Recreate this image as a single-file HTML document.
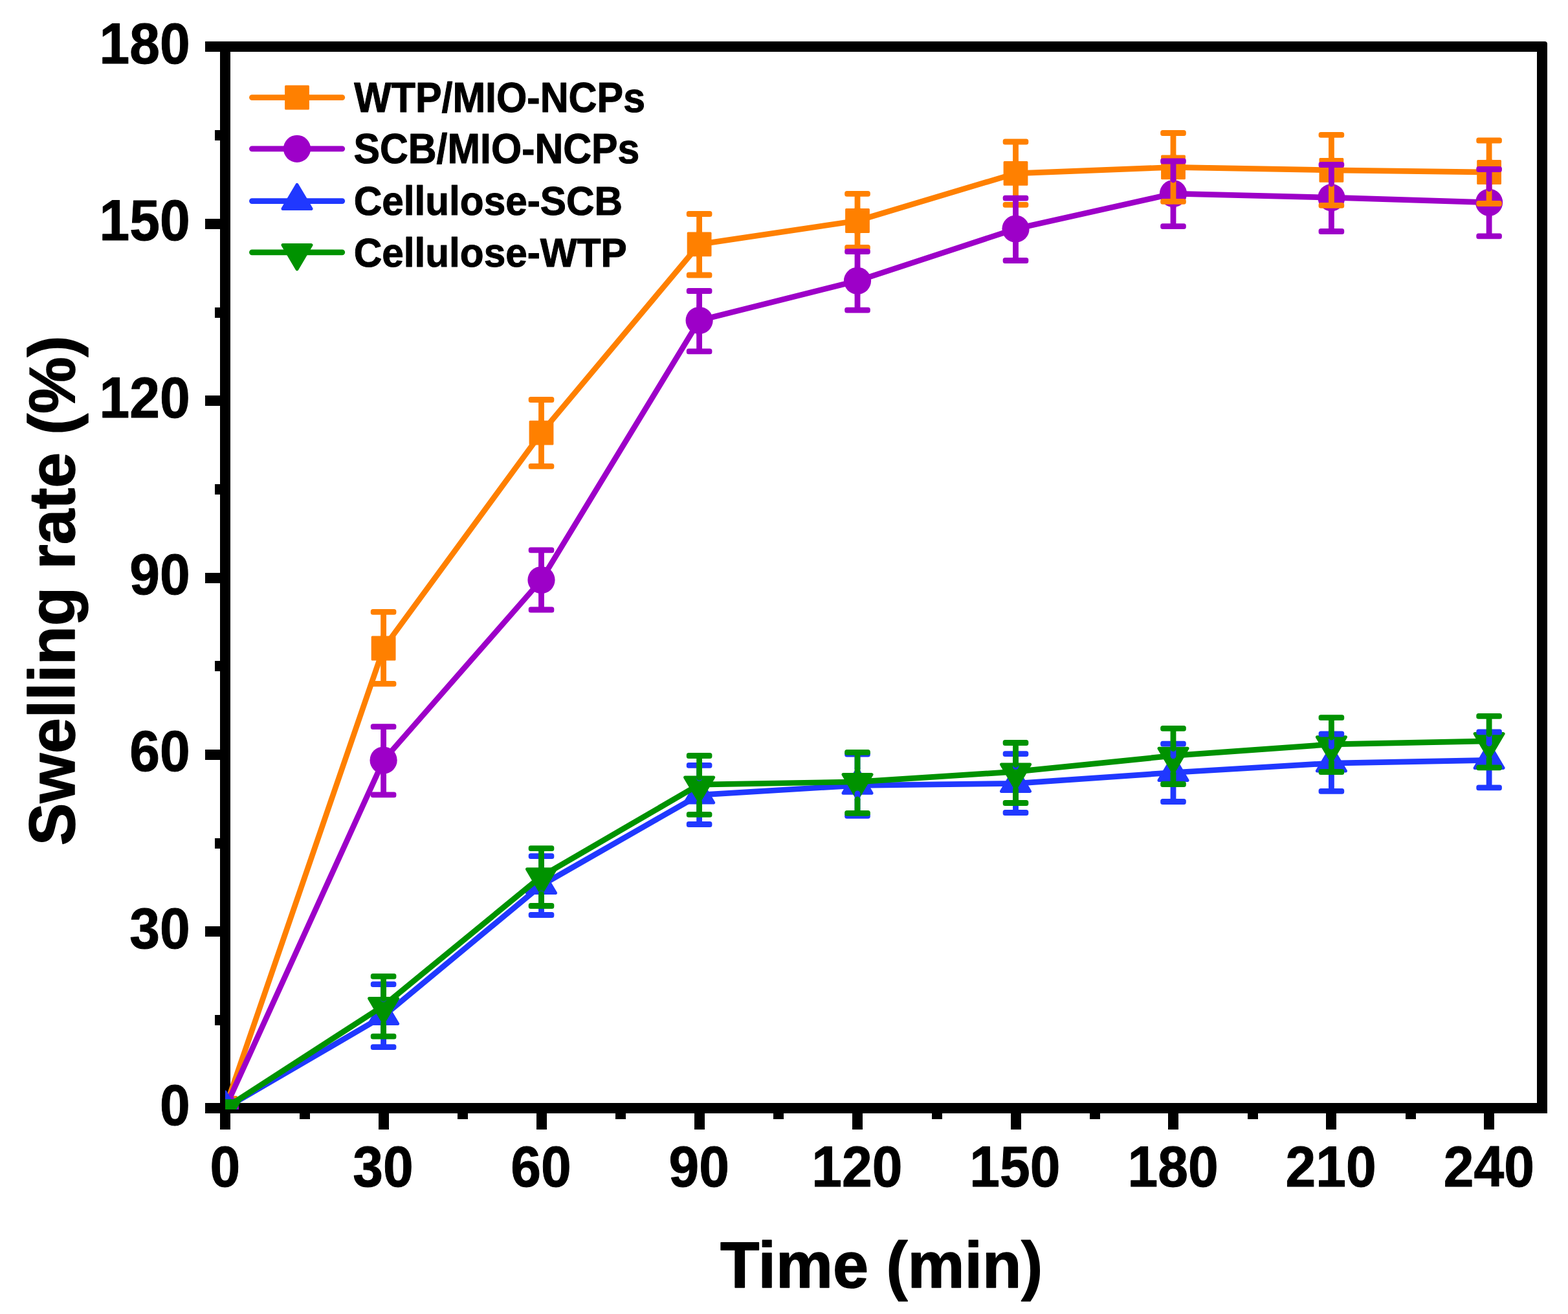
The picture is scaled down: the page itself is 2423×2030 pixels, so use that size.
<!DOCTYPE html>
<html lang="en"><head><meta charset="utf-8"><title>Swelling rate (%) vs Time (min)</title>
<style>
html,body{margin:0;padding:0;background:#fff;}
body{width:2423px;height:2030px;overflow:hidden;}
svg{display:block;}
text{font-family:"Liberation Sans",Arial,Helvetica,sans-serif;font-weight:bold;fill:#000;stroke:#000;stroke-width:1px;stroke-linejoin:round;}
.tk{font-size:84px;}
.ti{font-size:98.6px;stroke-width:1.5px;}
.lg{font-size:61px;}
</style></head><body>
<svg width="2423" height="2030" viewBox="0 0 2423 2030" role="img" aria-label="Swelling rate versus time">
<rect x="0" y="0" width="2423" height="2030" fill="#fff"/>
<defs><clipPath id="plot"><rect x="348" y="72" width="2035" height="1642"/></clipPath></defs>
<g id="axes" fill="#000" shape-rendering="crispEdges">
<path d="M340,64 H2387 Q2391,64 2391,68 V1720 H2375 V80 H340 Z" shape-rendering="geometricPrecision"/>
<rect x="340" y="64" width="16" height="1656"/>
<rect x="340" y="1704" width="2051" height="16"/>
<rect x="317" y="1704" width="31" height="16"/>
<rect x="332" y="1567.93" width="16" height="16"/>
<rect x="317" y="1431.27" width="31" height="16"/>
<rect x="332" y="1294.6" width="16" height="16"/>
<rect x="317" y="1157.93" width="31" height="16"/>
<rect x="332" y="1021.27" width="16" height="16"/>
<rect x="317" y="884.6" width="31" height="16"/>
<rect x="332" y="747.93" width="16" height="16"/>
<rect x="317" y="611.27" width="31" height="16"/>
<rect x="332" y="474.6" width="16" height="16"/>
<rect x="317" y="337.93" width="31" height="16"/>
<rect x="332" y="201.27" width="16" height="16"/>
<rect x="317" y="64" width="31" height="16"/>
<rect x="340" y="1712" width="16" height="33"/>
<rect x="462.8" y="1712" width="16" height="17"/>
<rect x="584.6" y="1712" width="16" height="33"/>
<rect x="707.05" y="1712" width="16" height="17"/>
<rect x="828.5" y="1712" width="16" height="33"/>
<rect x="951.05" y="1712" width="16" height="17"/>
<rect x="1072.6" y="1712" width="16" height="33"/>
<rect x="1195.3" y="1712" width="16" height="17"/>
<rect x="1317" y="1712" width="16" height="33"/>
<rect x="1439.75" y="1712" width="16" height="17"/>
<rect x="1561.5" y="1712" width="16" height="33"/>
<rect x="1683.75" y="1712" width="16" height="17"/>
<rect x="1805" y="1712" width="16" height="33"/>
<rect x="1927.7" y="1712" width="16" height="17"/>
<rect x="2049.4" y="1712" width="16" height="33"/>
<rect x="2171.75" y="1712" width="16" height="17"/>
<rect x="2293.1" y="1712" width="16" height="33"/>
</g>
<g id="ylabels" class="tk" text-anchor="end">
<text transform="translate(293.7,1737.9) scale(1,1.055)">0</text>
<text transform="translate(293.7,1464.57) scale(1,1.055)">30</text>
<text transform="translate(293.7,1191.23) scale(1,1.055)">60</text>
<text transform="translate(293.7,917.9) scale(1,1.055)">90</text>
<text transform="translate(293.7,644.57) scale(1,1.055)">120</text>
<text transform="translate(293.7,371.23) scale(1,1.055)">150</text>
<text transform="translate(293.7,97.9) scale(1,1.055)">180</text>
</g>
<g id="xlabels" class="tk" text-anchor="middle">
<text transform="translate(347.8,1832.6) scale(1,1.055)">0</text>
<text transform="translate(591.92,1832.6) scale(1,1.055)">30</text>
<text transform="translate(836.05,1832.6) scale(1,1.055)">60</text>
<text transform="translate(1080.17,1832.6) scale(1,1.055)">90</text>
<text transform="translate(1324.3,1832.6) scale(1,1.055)">120</text>
<text transform="translate(1568.42,1832.6) scale(1,1.055)">150</text>
<text transform="translate(1812.55,1832.6) scale(1,1.055)">180</text>
<text transform="translate(2056.68,1832.6) scale(1,1.055)">210</text>
<text transform="translate(2300.8,1832.6) scale(1,1.055)">240</text>
</g>
<text class="ti" transform="translate(1112.9,1989.4) scale(1.0035,1.02)">Time (min)</text>
<text class="ti" transform="translate(115.2,1306.2) rotate(-90) scale(0.9984,1.02)">Swelling rate (%)</text>
<g id="data" clip-path="url(#plot)">
<polyline points="348,1712 592.6,1001.5 836.5,668.7 1080.6,377.4 1325,341 1569.5,267.8 1813,258.4 2057.4,262.9 2301.1,266" fill="none" stroke="#FF8000" stroke-width="8.7" stroke-linejoin="round" stroke-linecap="round"/>
<rect x="330.6" y="1694.6" width="34.8" height="34.8" fill="#FF8000" stroke="#FF8000" stroke-width="3" stroke-linejoin="round"/>
<rect x="575.2" y="984.1" width="34.8" height="34.8" fill="#FF8000" stroke="#FF8000" stroke-width="3" stroke-linejoin="round"/>
<rect x="819.1" y="651.3" width="34.8" height="34.8" fill="#FF8000" stroke="#FF8000" stroke-width="3" stroke-linejoin="round"/>
<rect x="1063.2" y="360" width="34.8" height="34.8" fill="#FF8000" stroke="#FF8000" stroke-width="3" stroke-linejoin="round"/>
<rect x="1307.6" y="323.6" width="34.8" height="34.8" fill="#FF8000" stroke="#FF8000" stroke-width="3" stroke-linejoin="round"/>
<rect x="1552.1" y="250.4" width="34.8" height="34.8" fill="#FF8000" stroke="#FF8000" stroke-width="3" stroke-linejoin="round"/>
<rect x="1795.6" y="241" width="34.8" height="34.8" fill="#FF8000" stroke="#FF8000" stroke-width="3" stroke-linejoin="round"/>
<rect x="2040" y="245.5" width="34.8" height="34.8" fill="#FF8000" stroke="#FF8000" stroke-width="3" stroke-linejoin="round"/>
<rect x="2283.7" y="248.6" width="34.8" height="34.8" fill="#FF8000" stroke="#FF8000" stroke-width="3" stroke-linejoin="round"/>
<polyline points="348,1712 592.6,1174.5 836.5,896 1080.6,495 1325,433.8 1569.5,353.6 1813,299.1 2057.4,305.2 2301.1,312.7" fill="none" stroke="#9D00C8" stroke-width="8.7" stroke-linejoin="round" stroke-linecap="round"/>
<circle cx="348" cy="1712" r="21.1" fill="#9D00C8"/>
<circle cx="592.6" cy="1174.5" r="21.1" fill="#9D00C8"/>
<circle cx="836.5" cy="896" r="21.1" fill="#9D00C8"/>
<circle cx="1080.6" cy="495" r="21.1" fill="#9D00C8"/>
<circle cx="1325" cy="433.8" r="21.1" fill="#9D00C8"/>
<circle cx="1569.5" cy="353.6" r="21.1" fill="#9D00C8"/>
<circle cx="1813" cy="299.1" r="21.1" fill="#9D00C8"/>
<circle cx="2057.4" cy="305.2" r="21.1" fill="#9D00C8"/>
<circle cx="2301.1" cy="312.7" r="21.1" fill="#9D00C8"/>
<polyline points="348,1712 592.6,1569.6 836.5,1367.6 1080.6,1228.1 1325,1213.3 1569.5,1210.4 1813,1193.5 2057.4,1179.1 2301.1,1174.4" fill="none" stroke="#2038FF" stroke-width="8.7" stroke-linejoin="round" stroke-linecap="round"/>
<polygon points="348,1686.8 370,1724 326,1724" fill="#2038FF" stroke="#2038FF" stroke-width="5" stroke-linejoin="round"/>
<polygon points="592.6,1544.4 614.6,1581.6 570.6,1581.6" fill="#2038FF" stroke="#2038FF" stroke-width="5" stroke-linejoin="round"/>
<polygon points="836.5,1342.4 858.5,1379.6 814.5,1379.6" fill="#2038FF" stroke="#2038FF" stroke-width="5" stroke-linejoin="round"/>
<polygon points="1080.6,1202.9 1102.6,1240.1 1058.6,1240.1" fill="#2038FF" stroke="#2038FF" stroke-width="5" stroke-linejoin="round"/>
<polygon points="1325,1188.1 1347,1225.3 1303,1225.3" fill="#2038FF" stroke="#2038FF" stroke-width="5" stroke-linejoin="round"/>
<polygon points="1569.5,1185.2 1591.5,1222.4 1547.5,1222.4" fill="#2038FF" stroke="#2038FF" stroke-width="5" stroke-linejoin="round"/>
<polygon points="1813,1168.3 1835,1205.5 1791,1205.5" fill="#2038FF" stroke="#2038FF" stroke-width="5" stroke-linejoin="round"/>
<polygon points="2057.4,1153.9 2079.4,1191.1 2035.4,1191.1" fill="#2038FF" stroke="#2038FF" stroke-width="5" stroke-linejoin="round"/>
<polygon points="2301.1,1149.2 2323.1,1186.4 2279.1,1186.4" fill="#2038FF" stroke="#2038FF" stroke-width="5" stroke-linejoin="round"/>
<polyline points="348,1712 592.6,1553.8 836.5,1353.9 1080.6,1212.1 1325,1207.8 1569.5,1192.2 1813,1167.4 2057.4,1149.9 2301.1,1144.8" fill="none" stroke="#009200" stroke-width="8.7" stroke-linejoin="round" stroke-linecap="round"/>
<polygon points="348,1738 370,1700.8 326,1700.8" fill="#009200" stroke="#009200" stroke-width="5" stroke-linejoin="round"/>
<polygon points="592.6,1579.8 614.6,1542.6 570.6,1542.6" fill="#009200" stroke="#009200" stroke-width="5" stroke-linejoin="round"/>
<polygon points="836.5,1379.9 858.5,1342.7 814.5,1342.7" fill="#009200" stroke="#009200" stroke-width="5" stroke-linejoin="round"/>
<polygon points="1080.6,1238.1 1102.6,1200.9 1058.6,1200.9" fill="#009200" stroke="#009200" stroke-width="5" stroke-linejoin="round"/>
<polygon points="1325,1233.8 1347,1196.6 1303,1196.6" fill="#009200" stroke="#009200" stroke-width="5" stroke-linejoin="round"/>
<polygon points="1569.5,1218.2 1591.5,1181 1547.5,1181" fill="#009200" stroke="#009200" stroke-width="5" stroke-linejoin="round"/>
<polygon points="1813,1193.4 1835,1156.2 1791,1156.2" fill="#009200" stroke="#009200" stroke-width="5" stroke-linejoin="round"/>
<polygon points="2057.4,1175.9 2079.4,1138.7 2035.4,1138.7" fill="#009200" stroke="#009200" stroke-width="5" stroke-linejoin="round"/>
<polygon points="2301.1,1170.8 2323.1,1133.6 2279.1,1133.6" fill="#009200" stroke="#009200" stroke-width="5" stroke-linejoin="round"/>
<g stroke="#FF8000" stroke-width="8.8" stroke-linecap="round" fill="none">
<path d="M592.6,945.4 V982.6 M592.6,1056.4 V1020.4" stroke-linecap="butt"/>
<circle cx="592.6" cy="982.6" r="4.4" fill="#FF8000" stroke="none"/><circle cx="592.6" cy="1020.4" r="4.4" fill="#FF8000" stroke="none"/>
<rect x="572.8" y="941" width="39.6" height="8.8" rx="3.5" fill="#FF8000" stroke="none"/>
<rect x="572.8" y="1052" width="39.6" height="8.8" rx="3.5" fill="#FF8000" stroke="none"/>
<path d="M836.5,617.5 V649.8 M836.5,720.3 V687.6" stroke-linecap="butt"/>
<circle cx="836.5" cy="649.8" r="4.4" fill="#FF8000" stroke="none"/><circle cx="836.5" cy="687.6" r="4.4" fill="#FF8000" stroke="none"/>
<rect x="816.7" y="613.1" width="39.6" height="8.8" rx="3.5" fill="#FF8000" stroke="none"/>
<rect x="816.7" y="715.9" width="39.6" height="8.8" rx="3.5" fill="#FF8000" stroke="none"/>
<path d="M1080.6,330.5 V358.5 M1080.6,425 V396.3" stroke-linecap="butt"/>
<circle cx="1080.6" cy="358.5" r="4.4" fill="#FF8000" stroke="none"/><circle cx="1080.6" cy="396.3" r="4.4" fill="#FF8000" stroke="none"/>
<rect x="1060.8" y="326.1" width="39.6" height="8.8" rx="3.5" fill="#FF8000" stroke="none"/>
<rect x="1060.8" y="420.6" width="39.6" height="8.8" rx="3.5" fill="#FF8000" stroke="none"/>
<path d="M1325,299.3 V322.1 M1325,382.5 V359.9" stroke-linecap="butt"/>
<circle cx="1325" cy="322.1" r="4.4" fill="#FF8000" stroke="none"/><circle cx="1325" cy="359.9" r="4.4" fill="#FF8000" stroke="none"/>
<rect x="1305.2" y="294.9" width="39.6" height="8.8" rx="3.5" fill="#FF8000" stroke="none"/>
<rect x="1305.2" y="378.1" width="39.6" height="8.8" rx="3.5" fill="#FF8000" stroke="none"/>
<path d="M1569.5,219 V248.9 M1569.5,316.4 V286.7" stroke-linecap="butt"/>
<circle cx="1569.5" cy="248.9" r="4.4" fill="#FF8000" stroke="none"/><circle cx="1569.5" cy="286.7" r="4.4" fill="#FF8000" stroke="none"/>
<rect x="1549.7" y="214.6" width="39.6" height="8.8" rx="3.5" fill="#FF8000" stroke="none"/>
<rect x="1549.7" y="312" width="39.6" height="8.8" rx="3.5" fill="#FF8000" stroke="none"/>
<path d="M1813,205.5 V239.5 M1813,311.4 V277.3" stroke-linecap="butt"/>
<circle cx="1813" cy="239.5" r="4.4" fill="#FF8000" stroke="none"/><circle cx="1813" cy="277.3" r="4.4" fill="#FF8000" stroke="none"/>
<rect x="1793.2" y="201.1" width="39.6" height="8.8" rx="3.5" fill="#FF8000" stroke="none"/>
<rect x="1793.2" y="307" width="39.6" height="8.8" rx="3.5" fill="#FF8000" stroke="none"/>
<path d="M2057.4,208.4 V244 M2057.4,317.3 V281.8" stroke-linecap="butt"/>
<circle cx="2057.4" cy="244" r="4.4" fill="#FF8000" stroke="none"/><circle cx="2057.4" cy="281.8" r="4.4" fill="#FF8000" stroke="none"/>
<rect x="2037.6" y="204" width="39.6" height="8.8" rx="3.5" fill="#FF8000" stroke="none"/>
<rect x="2037.6" y="312.9" width="39.6" height="8.8" rx="3.5" fill="#FF8000" stroke="none"/>
<path d="M2301.1,217 V247.1 M2301.1,314.5 V284.9" stroke-linecap="butt"/>
<circle cx="2301.1" cy="247.1" r="4.4" fill="#FF8000" stroke="none"/><circle cx="2301.1" cy="284.9" r="4.4" fill="#FF8000" stroke="none"/>
<rect x="2281.3" y="212.6" width="39.6" height="8.8" rx="3.5" fill="#FF8000" stroke="none"/>
<rect x="2281.3" y="310.1" width="39.6" height="8.8" rx="3.5" fill="#FF8000" stroke="none"/>
</g>
<g stroke="#9D00C8" stroke-width="8.8" stroke-linecap="round" fill="none">
<path d="M592.6,1122.7 V1153.4 M592.6,1227.9 V1195.6" stroke-linecap="butt"/>
<circle cx="592.6" cy="1153.4" r="4.4" fill="#9D00C8" stroke="none"/><circle cx="592.6" cy="1195.6" r="4.4" fill="#9D00C8" stroke="none"/>
<rect x="572.8" y="1118.3" width="39.6" height="8.8" rx="3.5" fill="#9D00C8" stroke="none"/>
<rect x="572.8" y="1223.5" width="39.6" height="8.8" rx="3.5" fill="#9D00C8" stroke="none"/>
<path d="M836.5,849.9 V874.9 M836.5,942 V917.1" stroke-linecap="butt"/>
<circle cx="836.5" cy="874.9" r="4.4" fill="#9D00C8" stroke="none"/><circle cx="836.5" cy="917.1" r="4.4" fill="#9D00C8" stroke="none"/>
<rect x="816.7" y="845.5" width="39.6" height="8.8" rx="3.5" fill="#9D00C8" stroke="none"/>
<rect x="816.7" y="937.6" width="39.6" height="8.8" rx="3.5" fill="#9D00C8" stroke="none"/>
<path d="M1080.6,449.5 V473.9 M1080.6,542.8 V516.1" stroke-linecap="butt"/>
<circle cx="1080.6" cy="473.9" r="4.4" fill="#9D00C8" stroke="none"/><circle cx="1080.6" cy="516.1" r="4.4" fill="#9D00C8" stroke="none"/>
<rect x="1060.8" y="445.1" width="39.6" height="8.8" rx="3.5" fill="#9D00C8" stroke="none"/>
<rect x="1060.8" y="538.4" width="39.6" height="8.8" rx="3.5" fill="#9D00C8" stroke="none"/>
<path d="M1325,388.7 V412.7 M1325,479.1 V454.9" stroke-linecap="butt"/>
<circle cx="1325" cy="412.7" r="4.4" fill="#9D00C8" stroke="none"/><circle cx="1325" cy="454.9" r="4.4" fill="#9D00C8" stroke="none"/>
<rect x="1305.2" y="384.3" width="39.6" height="8.8" rx="3.5" fill="#9D00C8" stroke="none"/>
<rect x="1305.2" y="474.7" width="39.6" height="8.8" rx="3.5" fill="#9D00C8" stroke="none"/>
<path d="M1569.5,306.1 V332.5 M1569.5,402.5 V374.7" stroke-linecap="butt"/>
<circle cx="1569.5" cy="332.5" r="4.4" fill="#9D00C8" stroke="none"/><circle cx="1569.5" cy="374.7" r="4.4" fill="#9D00C8" stroke="none"/>
<rect x="1549.7" y="301.7" width="39.6" height="8.8" rx="3.5" fill="#9D00C8" stroke="none"/>
<rect x="1549.7" y="398.1" width="39.6" height="8.8" rx="3.5" fill="#9D00C8" stroke="none"/>
<path d="M1813,249 V278 M1813,349.6 V320.2" stroke-linecap="butt"/>
<circle cx="1813" cy="278" r="4.4" fill="#9D00C8" stroke="none"/><circle cx="1813" cy="320.2" r="4.4" fill="#9D00C8" stroke="none"/>
<rect x="1793.2" y="244.6" width="39.6" height="8.8" rx="3.5" fill="#9D00C8" stroke="none"/>
<rect x="1793.2" y="345.2" width="39.6" height="8.8" rx="3.5" fill="#9D00C8" stroke="none"/>
<path d="M2057.4,254.5 V284.1 M2057.4,357.5 V326.3" stroke-linecap="butt"/>
<circle cx="2057.4" cy="284.1" r="4.4" fill="#9D00C8" stroke="none"/><circle cx="2057.4" cy="326.3" r="4.4" fill="#9D00C8" stroke="none"/>
<rect x="2037.6" y="250.1" width="39.6" height="8.8" rx="3.5" fill="#9D00C8" stroke="none"/>
<rect x="2037.6" y="353.1" width="39.6" height="8.8" rx="3.5" fill="#9D00C8" stroke="none"/>
<path d="M2301.1,261.5 V291.6 M2301.1,364.8 V333.8" stroke-linecap="butt"/>
<circle cx="2301.1" cy="291.6" r="4.4" fill="#9D00C8" stroke="none"/><circle cx="2301.1" cy="333.8" r="4.4" fill="#9D00C8" stroke="none"/>
<rect x="2281.3" y="257.1" width="39.6" height="8.8" rx="3.5" fill="#9D00C8" stroke="none"/>
<rect x="2281.3" y="360.4" width="39.6" height="8.8" rx="3.5" fill="#9D00C8" stroke="none"/>
</g>
<g stroke="#2038FF" stroke-width="8.8" stroke-linecap="round" fill="none">
<path d="M592.6,1520.6 V1543.9 M592.6,1617.6 V1582.1" stroke-linecap="butt"/>
<circle cx="592.6" cy="1543.9" r="4.4" fill="#2038FF" stroke="none"/><circle cx="592.6" cy="1582.1" r="4.4" fill="#2038FF" stroke="none"/>
<rect x="572.8" y="1516.2" width="39.6" height="8.8" rx="3.5" fill="#2038FF" stroke="none"/>
<rect x="572.8" y="1613.2" width="39.6" height="8.8" rx="3.5" fill="#2038FF" stroke="none"/>
<path d="M836.5,1322.6 V1341.9 M836.5,1413.5 V1380.1" stroke-linecap="butt"/>
<circle cx="836.5" cy="1341.9" r="4.4" fill="#2038FF" stroke="none"/><circle cx="836.5" cy="1380.1" r="4.4" fill="#2038FF" stroke="none"/>
<rect x="816.7" y="1318.2" width="39.6" height="8.8" rx="3.5" fill="#2038FF" stroke="none"/>
<rect x="816.7" y="1409.1" width="39.6" height="8.8" rx="3.5" fill="#2038FF" stroke="none"/>
<path d="M1080.6,1182.3 V1202.4 M1080.6,1273.5 V1240.6" stroke-linecap="butt"/>
<circle cx="1080.6" cy="1202.4" r="4.4" fill="#2038FF" stroke="none"/><circle cx="1080.6" cy="1240.6" r="4.4" fill="#2038FF" stroke="none"/>
<rect x="1060.8" y="1177.9" width="39.6" height="8.8" rx="3.5" fill="#2038FF" stroke="none"/>
<rect x="1060.8" y="1269.1" width="39.6" height="8.8" rx="3.5" fill="#2038FF" stroke="none"/>
<path d="M1325,1165.2 V1187.6 M1325,1260.3 V1225.8" stroke-linecap="butt"/>
<circle cx="1325" cy="1187.6" r="4.4" fill="#2038FF" stroke="none"/><circle cx="1325" cy="1225.8" r="4.4" fill="#2038FF" stroke="none"/>
<rect x="1305.2" y="1160.8" width="39.6" height="8.8" rx="3.5" fill="#2038FF" stroke="none"/>
<rect x="1305.2" y="1255.9" width="39.6" height="8.8" rx="3.5" fill="#2038FF" stroke="none"/>
<path d="M1569.5,1164.6 V1184.7 M1569.5,1255.5 V1222.9" stroke-linecap="butt"/>
<circle cx="1569.5" cy="1184.7" r="4.4" fill="#2038FF" stroke="none"/><circle cx="1569.5" cy="1222.9" r="4.4" fill="#2038FF" stroke="none"/>
<rect x="1549.7" y="1160.2" width="39.6" height="8.8" rx="3.5" fill="#2038FF" stroke="none"/>
<rect x="1549.7" y="1251.1" width="39.6" height="8.8" rx="3.5" fill="#2038FF" stroke="none"/>
<path d="M1813,1149.2 V1167.8 M1813,1238.5 V1206" stroke-linecap="butt"/>
<circle cx="1813" cy="1167.8" r="4.4" fill="#2038FF" stroke="none"/><circle cx="1813" cy="1206" r="4.4" fill="#2038FF" stroke="none"/>
<rect x="1793.2" y="1144.8" width="39.6" height="8.8" rx="3.5" fill="#2038FF" stroke="none"/>
<rect x="1793.2" y="1234.1" width="39.6" height="8.8" rx="3.5" fill="#2038FF" stroke="none"/>
<path d="M2057.4,1134 V1153.4 M2057.4,1222.4 V1191.6" stroke-linecap="butt"/>
<circle cx="2057.4" cy="1153.4" r="4.4" fill="#2038FF" stroke="none"/><circle cx="2057.4" cy="1191.6" r="4.4" fill="#2038FF" stroke="none"/>
<rect x="2037.6" y="1129.6" width="39.6" height="8.8" rx="3.5" fill="#2038FF" stroke="none"/>
<rect x="2037.6" y="1218" width="39.6" height="8.8" rx="3.5" fill="#2038FF" stroke="none"/>
<path d="M2301.1,1130.9 V1148.7 M2301.1,1216.9 V1186.9" stroke-linecap="butt"/>
<circle cx="2301.1" cy="1148.7" r="4.4" fill="#2038FF" stroke="none"/><circle cx="2301.1" cy="1186.9" r="4.4" fill="#2038FF" stroke="none"/>
<rect x="2281.3" y="1126.5" width="39.6" height="8.8" rx="3.5" fill="#2038FF" stroke="none"/>
<rect x="2281.3" y="1212.5" width="39.6" height="8.8" rx="3.5" fill="#2038FF" stroke="none"/>
</g>
<g stroke="#009200" stroke-width="8.8" stroke-linecap="round" fill="none">
<path d="M592.6,1508.3 V1543.1 M592.6,1601.1 V1580.8" stroke-linecap="butt"/>
<circle cx="592.6" cy="1543.1" r="4.4" fill="#009200" stroke="none"/><circle cx="592.6" cy="1580.8" r="4.4" fill="#009200" stroke="none"/>
<rect x="572.8" y="1503.9" width="39.6" height="8.8" rx="3.5" fill="#009200" stroke="none"/>
<rect x="572.8" y="1596.7" width="39.6" height="8.8" rx="3.5" fill="#009200" stroke="none"/>
<path d="M836.5,1310.6 V1343.2 M836.5,1399.5 V1380.9" stroke-linecap="butt"/>
<circle cx="836.5" cy="1343.2" r="4.4" fill="#009200" stroke="none"/><circle cx="836.5" cy="1380.9" r="4.4" fill="#009200" stroke="none"/>
<rect x="816.7" y="1306.2" width="39.6" height="8.8" rx="3.5" fill="#009200" stroke="none"/>
<rect x="816.7" y="1395.1" width="39.6" height="8.8" rx="3.5" fill="#009200" stroke="none"/>
<path d="M1080.6,1167.5 V1201.4 M1080.6,1258.4 V1239.1" stroke-linecap="butt"/>
<circle cx="1080.6" cy="1201.4" r="4.4" fill="#009200" stroke="none"/><circle cx="1080.6" cy="1239.1" r="4.4" fill="#009200" stroke="none"/>
<rect x="1060.8" y="1163.1" width="39.6" height="8.8" rx="3.5" fill="#009200" stroke="none"/>
<rect x="1060.8" y="1254" width="39.6" height="8.8" rx="3.5" fill="#009200" stroke="none"/>
<path d="M1325,1162.3 V1197.1 M1325,1256.4 V1234.8" stroke-linecap="butt"/>
<circle cx="1325" cy="1197.1" r="4.4" fill="#009200" stroke="none"/><circle cx="1325" cy="1234.8" r="4.4" fill="#009200" stroke="none"/>
<rect x="1305.2" y="1157.9" width="39.6" height="8.8" rx="3.5" fill="#009200" stroke="none"/>
<rect x="1305.2" y="1252" width="39.6" height="8.8" rx="3.5" fill="#009200" stroke="none"/>
<path d="M1569.5,1147.5 V1181.5 M1569.5,1240.5 V1219.2" stroke-linecap="butt"/>
<circle cx="1569.5" cy="1181.5" r="4.4" fill="#009200" stroke="none"/><circle cx="1569.5" cy="1219.2" r="4.4" fill="#009200" stroke="none"/>
<rect x="1549.7" y="1143.1" width="39.6" height="8.8" rx="3.5" fill="#009200" stroke="none"/>
<rect x="1549.7" y="1236.1" width="39.6" height="8.8" rx="3.5" fill="#009200" stroke="none"/>
<path d="M1813,1125.3 V1156.7 M1813,1211.5 V1194.4" stroke-linecap="butt"/>
<circle cx="1813" cy="1156.7" r="4.4" fill="#009200" stroke="none"/><circle cx="1813" cy="1194.4" r="4.4" fill="#009200" stroke="none"/>
<rect x="1793.2" y="1120.9" width="39.6" height="8.8" rx="3.5" fill="#009200" stroke="none"/>
<rect x="1793.2" y="1207.1" width="39.6" height="8.8" rx="3.5" fill="#009200" stroke="none"/>
<path d="M2057.4,1108.6 V1139.2 M2057.4,1192.5 V1176.9" stroke-linecap="butt"/>
<circle cx="2057.4" cy="1139.2" r="4.4" fill="#009200" stroke="none"/><circle cx="2057.4" cy="1176.9" r="4.4" fill="#009200" stroke="none"/>
<rect x="2037.6" y="1104.2" width="39.6" height="8.8" rx="3.5" fill="#009200" stroke="none"/>
<rect x="2037.6" y="1188.1" width="39.6" height="8.8" rx="3.5" fill="#009200" stroke="none"/>
<path d="M2301.1,1106.3 V1134.1 M2301.1,1185.9 V1171.8" stroke-linecap="butt"/>
<circle cx="2301.1" cy="1134.1" r="4.4" fill="#009200" stroke="none"/><circle cx="2301.1" cy="1171.8" r="4.4" fill="#009200" stroke="none"/>
<rect x="2281.3" y="1101.9" width="39.6" height="8.8" rx="3.5" fill="#009200" stroke="none"/>
<rect x="2281.3" y="1181.5" width="39.6" height="8.8" rx="3.5" fill="#009200" stroke="none"/>
</g>
</g>
<g id="legend">
<line x1="389.4" y1="150.6" x2="528.8" y2="150.6" stroke="#FF8000" stroke-width="8.7" stroke-linecap="round"/>
<rect x="441.6" y="133.2" width="34.8" height="34.8" fill="#FF8000" stroke="#FF8000" stroke-width="3" stroke-linejoin="round"/>
<text class="lg" transform="translate(547.3,172.6) scale(0.998,1.06)">WTP/MIO-NCPs</text>
<line x1="389.4" y1="229.8" x2="528.8" y2="229.8" stroke="#9D00C8" stroke-width="8.7" stroke-linecap="round"/>
<circle cx="459" cy="229.8" r="21.1" fill="#9D00C8"/>
<text class="lg" transform="translate(546.4,252.2) scale(0.9957,1.06)">SCB/MIO-NCPs</text>
<line x1="389.4" y1="310.6" x2="528.8" y2="310.6" stroke="#2038FF" stroke-width="8.7" stroke-linecap="round"/>
<polygon points="459,285.4 481,322.6 437,322.6" fill="#2038FF" stroke="#2038FF" stroke-width="5" stroke-linejoin="round"/>
<text class="lg" transform="translate(546.7,332.4) scale(0.9884,1.03)">Cellulose-SCB</text>
<line x1="389.4" y1="389.8" x2="528.8" y2="389.8" stroke="#009200" stroke-width="8.7" stroke-linecap="round"/>
<polygon points="459,415.8 481,378.6 437,378.6" fill="#009200" stroke="#009200" stroke-width="5" stroke-linejoin="round"/>
<text class="lg" transform="translate(546.7,411.9) scale(0.9884,1.03)">Cellulose-WTP</text>
</g>
</svg>
</body></html>
